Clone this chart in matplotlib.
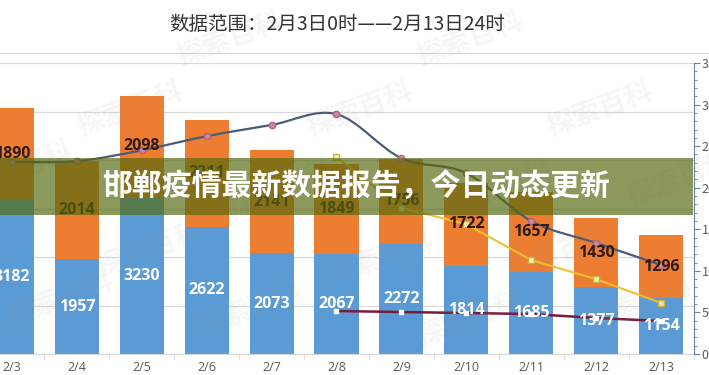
import matplotlib
matplotlib.use("Agg")
import matplotlib.pyplot as plt
from matplotlib.patches import Rectangle, PathPatch
from matplotlib.path import Path
from matplotlib.lines import Line2D
from matplotlib.ticker import MultipleLocator

plt.rcParams['font.family'] = ['Noto Sans CJK SC', 'DejaVu Sans']

# data
dates = ["2/3", "2/4", "2/5", "2/6", "2/7", "2/8", "2/9", "2/10", "2/11", "2/12", "2/13"]
blue_vals = [3182, 1957, 3230, 2622, 2073, 2067, 2272, 1814, 1685, 1377, 1154]
orange_vals = [1890, 2014, 2098, 2211, 2141, 1849, 1756, 1722, 1657, 1430, 1296]
gray_line = [2310, 2320, 2450, 2620, 2755, 2885, 2355, 2175, 1600, 1335, 1070]
yellow_days = ["2/8", "2/9", "2/10", "2/11", "2/12", "2/13"]
yellow_line = [2370, 1760, 1560, 1130, 900, 615]
red_days = ["2/8", "2/9", "2/10", "2/11", "2/12", "2/13"]
red_line = [517, 505, 493, 481, 433, 397]

title = "数据范围：2月3日0时——2月13日24时"
banner = "邯郸疫情最新数据报告，今日动态更新"

BLUE = "#5b9bd5"
ORANGE = "#ed7d31"
GRID = "#d9d9d9"
TXT = "#595959"


def smooth_path(xs, ys):
    # cubic bezier through the points (like an Excel smoothed line)
    pts = list(zip(xs, ys))
    verts = [pts[0]]
    codes = [Path.MOVETO]
    n = len(pts)
    for i in range(n - 1):
        p0 = pts[i - 1] if i > 0 else pts[i]
        p1 = pts[i]
        p2 = pts[i + 1]
        p3 = pts[i + 2] if i + 2 < n else pts[i + 1]
        c1 = (p1[0] + (p2[0] - p0[0]) / 6, p1[1] + (p2[1] - p0[1]) / 6)
        c2 = (p2[0] - (p3[0] - p1[0]) / 6, p2[1] - (p3[1] - p1[1]) / 6)
        verts += [c1, c2, p2]
        codes += [Path.CURVE4] * 3
    return Path(verts, codes)


W, H = 709, 375
fig = plt.figure(figsize=(W / 100, H / 100), dpi=100)
fig.patch.set_facecolor("white")

ax = fig.add_axes([-20.5 / W, 21 / H, 714 / W, 291 / H])
xs = list(range(len(dates)))
ax.bar(xs, blue_vals, width=0.68, color=BLUE, zorder=2)
ax.bar(xs, orange_vals, width=0.68, bottom=blue_vals, color=ORANGE, zorder=2)
ax.set_xlim(-0.5, len(dates) - 0.5)
ax.set_ylim(0, 6000)
ax.yaxis.set_major_locator(MultipleLocator(1000))
ax.grid(axis="y", color=GRID, linewidth=0.9, zorder=0)
ax.set_axisbelow(True)
for s in ["top", "left", "right"]:
    ax.spines[s].set_visible(False)
ax.spines["bottom"].set_color(GRID)
ax.tick_params(axis="y", left=False, labelleft=False)
ax.set_xticks(xs)
ax.set_xticklabels(dates, fontsize=9, color=TXT, family=["Open Sans", "DejaVu Sans"])
ax.tick_params(axis="x", length=0, pad=5)
ax.set_xticks([x + 0.5 for x in xs], minor=True)
ax.tick_params(axis="x", which="minor", length=4, color=GRID)

ax2 = ax.twinx()
ax2.set_ylim(0, 3500)
ax2.yaxis.set_major_locator(MultipleLocator(500))
ax2.yaxis.set_minor_locator(MultipleLocator(100))
for s in ["top", "left", "bottom"]:
    ax2.spines[s].set_visible(False)
ax2.spines["right"].set_color("#6283a3")
ax2.tick_params(axis="y", which="major", length=4, color="#6283a3",
                labelsize=9, labelcolor=TXT, pad=2)
ax2.tick_params(axis="y", which="minor", length=2.5, color="#6283a3")

# gray smoothed line
gpath = smooth_path(xs, gray_line)
ax2.add_patch(PathPatch(gpath, facecolor="none", edgecolor="#4b5b78", lw=1.6, zorder=3))
ax2.plot(xs, gray_line, linestyle="none", marker="o", markersize=4.5,
         markerfacecolor="#c98a9a", markeredgecolor="#b8607a", zorder=4)

yx = [dates.index(d) for d in yellow_days]
ax2.plot(yx, yellow_line, color="#f0c030", lw=1.5, marker="s", markersize=4,
         markerfacecolor="#f4ecb0", markeredgecolor="#c9b43a", zorder=4)

rx = [dates.index(d) for d in red_days]
ax2.plot(rx, red_line, color="#7b1b3a", lw=1.8, marker="s", markersize=3,
         markerfacecolor="white", markeredgecolor="white", zorder=4)

# bar value labels, drawn above the lines
for x, b, o in zip(xs, blue_vals, orange_vals):
    ax2.text(x, b / 2, str(b), transform=ax.transData, ha="center", va="center",
             color="white", fontsize=11.5, fontweight="bold",
             family=["Open Sans", "DejaVu Sans"], zorder=6)
    ax2.text(x, b + o / 2, str(o), transform=ax.transData, ha="center", va="center",
             color="#2d1a12", fontsize=11.5, fontweight="bold",
             family=["Open Sans", "DejaVu Sans"], zorder=6)

# faint watermark
for wx, wy in [(60, 300), (250, 310), (470, 320), (640, 305), (150, 250),
               (380, 260), (560, 255), (20, 170), (280, 190), (500, 190),
               (680, 180), (130, 110), (360, 110), (600, 110), (230, 40), (470, 40)]:
    fig.text(wx / W, 1 - wy / H, "探索百科", fontsize=20, fontweight="bold",
             color="#9a9a9a", alpha=0.09, rotation=20, ha="center", va="center", zorder=2)

# top rule line and title
fig.add_artist(Line2D([0, 1], [1 - 53 / H, 1 - 53 / H], color=GRID, lw=0.9))
fig.text(337 / W, 1 - 24 / H, title, fontsize=14, color="#333333",
         ha="center", va="center")

# banner overlay
fig.add_artist(Rectangle((0, 1 - 215 / H), 693 / W, 57 / H, transform=fig.transFigure,
                         facecolor="#55690f", alpha=0.68, edgecolor="none", zorder=5))
fig.text(356 / W, 1 - 186 / H, banner, fontsize=21.5, fontweight=900, color="white",
         ha="center", va="center", zorder=6)

fig.savefig("out.png", dpi=100)
